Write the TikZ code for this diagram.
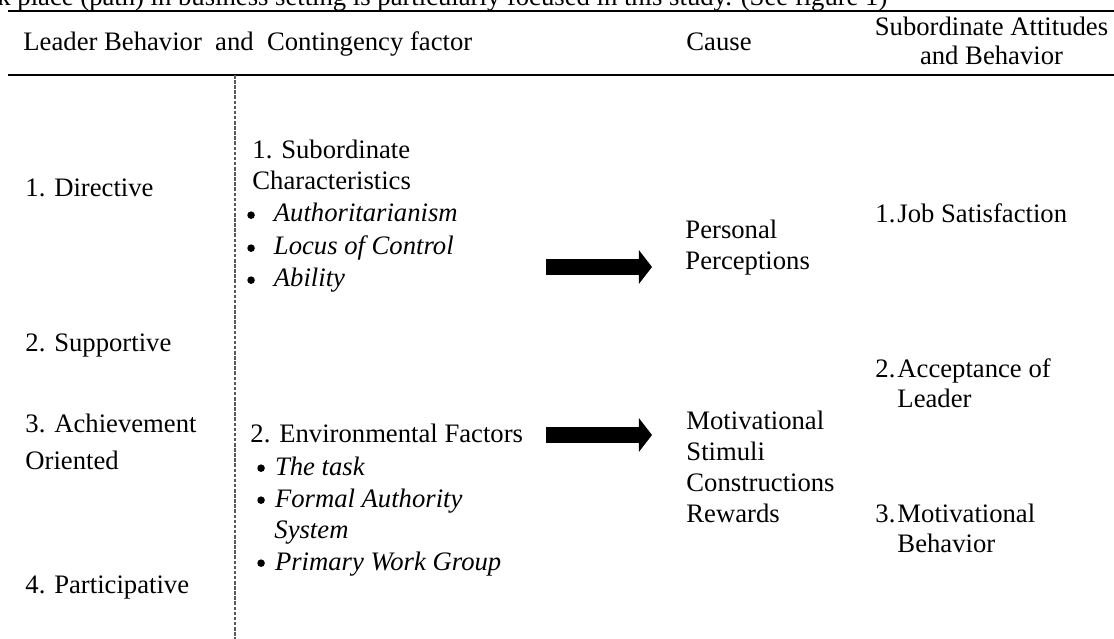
\documentclass[tikz,border=0pt]{standalone}
\usepackage{fontspec}
\setmainfont{Liberation Serif}
\usetikzlibrary{arrows.meta}

\newcommand{\numlab}[1]{\makebox[9.9pt][l]{#1}}
\newcommand{\bigdot}{\raisebox{0.25ex}{\tikz\fill (0,0) circle (1.7pt);}}
\newcommand{\bulwide}{\makebox[12.6pt][l]{\hspace{0.6pt}\bigdot}}
\newcommand{\bulnarrow}{\makebox[8.6pt][l]{\hspace{0.6pt}\bigdot}}

\begin{document}
\begin{tikzpicture}[
		x=0.45pt, y=-0.45pt,
		txt/.style={anchor=base west, inner sep=0pt, font=\fontsize{12}{14.2}\selectfont},
		rule/.style={line width=1.2pt},
		divider/.style={line width=0.7pt, gray!70!black, dash pattern=on 1.6pt off 0.7pt},
		fat arrow/.style={line width=7.2pt, -{Triangle[width=14.9pt, length=5.9pt]}},
	]
		\useasboundingbox (0,0) rectangle (1114,639);
		\clip (0,0) rectangle (1114,639);

		\node[txt] (intro) at (-3,6) {k place (path) in business setting is particularly focused in this study. (See figure 1)};

		% table head
		\draw[rule] (8,11) -- (1114,11);
		\node[txt] (hleader) at (23,51) {Leader Behavior\ \ and\ \ Contingency factor};
		\node[txt] (hcause) at (686,51) {Cause};
		\node[txt, anchor=base] (hsub) at (991.5,36) {Subordinate Attitudes};
		\node[txt, anchor=base] (hsubb) at (991.5,65) {and Behavior};
		\draw[rule] (8,75) -- (1114,75);

		\draw[divider] (235,75) -- (235,639);

		% leader behavior
		\node[txt] (directive) at (25,197) {1. Directive};
		\node[txt] (supportive) at (25,352) {2. Supportive};
		\node[txt] (achieve) at (25,432) {3. Achievement};
		\node[txt] (oriented) at (25,469) {Oriented};
		\node[txt] (particip) at (25,593) {4. Participative};

		% contingency factors
		\node[txt] (subchar) at (252,159) {1. Subordinate};
		\node[txt] (subcharb) at (252,190) {Characteristics};
		\node[txt] (authr) at (245.5,222) {\bulwide\textit{Authoritarianism}};
		\node[txt] (locus) at (245.5,255) {\bulwide\textit{Locus of Control}};
		\node[txt] (ability) at (245.5,287) {\bulwide\textit{Ability}};

		\node[txt] (envfac) at (250,443) {2. Environmental Factors};
		\node[txt] (task) at (255.5,475) {\bulnarrow\textit{The task}};
		\node[txt] (formal) at (255.5,507) {\bulnarrow\textit{Formal Authority}};
		\node[txt] (system) at (274,538) {\textit{System}};
		\node[txt] (primary) at (255.5,570) {\bulnarrow\textit{Primary Work Group}};

		% cause
		\node[txt] (personal) at (685,239) {Personal};
		\node[txt] (percep) at (685,270) {Perceptions};
		\node[txt] (motiv) at (686,430) {Motivational};
		\node[txt] (stimuli) at (686,461) {Stimuli};
		\node[txt] (constr) at (686,491) {Constructions};
		\node[txt] (rewards) at (686,522) {Rewards};

		% attitudes and behavior
		\node[txt] (jobsat) at (875,223) {\numlab{1.}Job Satisfaction};
		\node[txt] (accept) at (875,378) {\numlab{2.}Acceptance of};
		\node[txt] (leader) at (897,408) {Leader};
		\node[txt] (motbeh) at (875,522) {\numlab{3.}Motivational};
		\node[txt] (behav) at (897,552) {Behavior};

		\coordinate (subtail) at (546,267);
		\coordinate (subhead) at (652,267);
		\coordinate (envtail) at (546,435);
		\coordinate (envhead) at (652,435);
		\draw[fat arrow] (subtail) -- (subhead);
		\draw[fat arrow] (envtail) -- (envhead);
	\end{tikzpicture}
\end{document}
